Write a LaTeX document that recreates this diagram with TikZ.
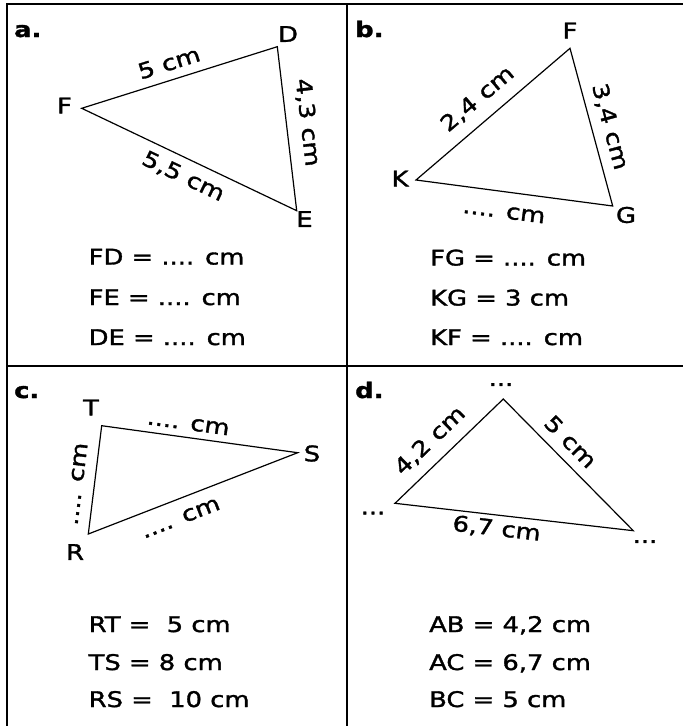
\documentclass[tikz,border=0pt]{standalone}
\usepackage{fontspec}
\setmainfont{DejaVu Sans}[FakeStretch=1.2, FakeBold=1.5]
\begin{document}
\begin{tikzpicture}[x=1pt,y=-1pt]
\useasboundingbox (0,0) rectangle (683,726);
\tikzset{
  txt/.style={inner sep=0pt, font=\fontsize{21.5}{25}\selectfont},
  panel/.style={inner sep=0pt, font=\fontsize{21.5}{25}\selectfont\bfseries, anchor=base west},
  eq/.style={txt, anchor=base west},
  tri/.style={line width=1.2pt, line join=miter},
  gridline/.style={line width=2pt, line join=miter}
}
% table lines
\draw[gridline] (7,740) -- (7,4.3) -- (700,4.3);
\draw[gridline] (347,4.3) -- (347,740);
\draw[gridline] (7,366) -- (700,366);

% ---------- panel a ----------
\node[panel] (pa) at (14,37) {a.};
\coordinate (aF) at (81.7,108.3);
\coordinate (aD) at (277.3,46.7);
\coordinate (aE) at (296.7,210.7);
\draw[tri] (aF) -- (aD) -- (aE) -- cycle;
\node[txt] (aDl) at (288,34) {D};
\node[txt] (aFl) at (64.5,105.5) {F};
\node[txt] (aEl) at (304.5,219) {E};
\node[txt, rotate=17.5] (aFD) at (169,62.7) {5 cm};
\node[txt, rotate=-83.3] (aDE) at (307.5,122.5) {4,3 cm};
\node[txt, rotate=-25.5] (aFE) at (183.3,176.7) {5,5 cm};
\node[eq] (aq1) at (88.5,264.5) {FD = .... cm};
\node[eq] (aq2) at (88.5,305) {FE = .... cm};
\node[eq] (aq3) at (88.5,345) {DE = .... cm};

% ---------- panel b ----------
\node[panel] (pb) at (355,37) {b.};
\coordinate (bF) at (570,48.3);
\coordinate (bK) at (416,180);
\coordinate (bG) at (612.7,206);
\draw[tri] (bK) -- (bF) -- (bG) -- cycle;
\node[txt] (bFl) at (570,30.5) {F};
\node[txt] (bKl) at (400,178.5) {K};
\node[txt] (bGl) at (626,215) {G};
\node[txt, rotate=40.5] (bKF) at (477.5,99) {2,4 cm};
\node[txt, rotate=-74.85] (bFG) at (610,126.7) {3,4 cm};
\node[txt, rotate=-7.5] (bKG) at (504,212.3) {.... cm};
\node[eq] (bq1) at (430,265.5) {FG = .... cm};
\node[eq] (bq2) at (430,305.5) {KG = 3 cm};
\node[eq] (bq3) at (430,345) {KF = .... cm};

% ---------- panel c ----------
\node[panel] (pc) at (14,398) {c.};
\coordinate (cT) at (101.7,425.7);
\coordinate (cS) at (297.7,452.7);
\coordinate (cR) at (88.3,534);
\draw[tri] (cT) -- (cS) -- (cR) -- cycle;
\node[txt] (cTl) at (91,407.5) {T};
\node[txt] (cSl) at (312,453.5) {S};
\node[txt] (cRl) at (75,552) {R};
\node[txt, rotate=-7.8] (cTS) at (188.3,424) {.... cm};
\node[txt, rotate=82.9] (cRT) at (76.7,484) {.... cm};
\node[txt, rotate=21.2] (cRS) at (180.7,518.3) {.... cm};
\node[eq] (cq1) at (88.5,632) {RT = \ 5 cm};
\node[eq] (cq2) at (88.5,670) {TS = 8 cm};
\node[eq] (cq3) at (88.5,707) {RS = \ 10 cm};

% ---------- panel d ----------
\node[panel] (pd) at (355,398) {d.};
\coordinate (dT) at (503.3,399);
\coordinate (dL) at (395,503.3);
\coordinate (dR) at (633.3,530.7);
\draw[tri] (dL) -- (dT) -- (dR) -- cycle;
\node[txt] (dTl) at (501,384.5) {...};
\node[txt] (dLl) at (373,513) {...};
\node[txt] (dRl) at (645,541.5) {...};
\node[txt, rotate=43.9] (dLT) at (430,440.7) {4,2 cm};
\node[txt, rotate=-45.4] (dTR) at (570.7,441.7) {5 cm};
\node[txt, rotate=-6.6] (dLR) at (496.7,529) {6,7 cm};
\node[eq] (dq1) at (429,632) {AB = 4,2 cm};
\node[eq] (dq2) at (429,670) {AC = 6,7 cm};
\node[eq] (dq3) at (429,707) {BC = 5 cm};
\end{tikzpicture}
\end{document}
